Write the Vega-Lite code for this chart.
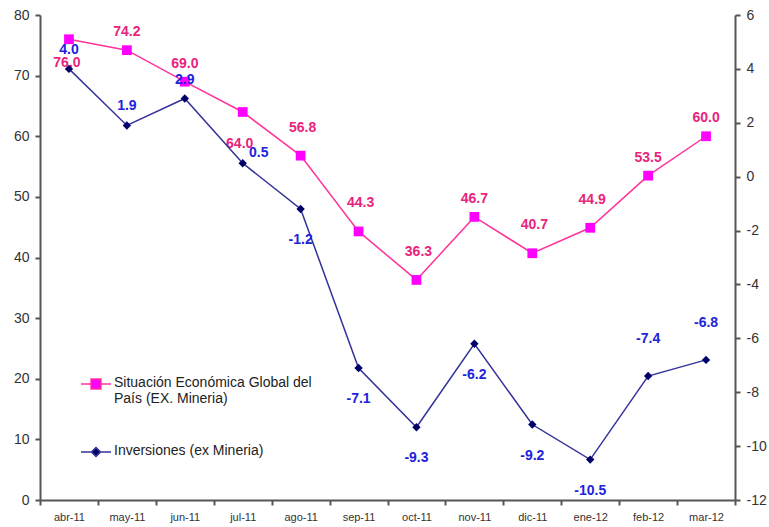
{
  "$schema": "https://vega.github.io/schema/vega-lite/v6.json",
  "width": 695,
  "height": 485,
  "autosize": {"type": "none"},
  "padding": {"left": 40, "top": 15, "right": 34, "bottom": 27},
  "background": "white",
  "data": {
    "values": [
      {"mes": "abr-11", "serie": "Situación Económica Global del País (EX. Mineria)", "valor": 76.0},
      {"mes": "may-11", "serie": "Situación Económica Global del País (EX. Mineria)", "valor": 74.2},
      {"mes": "jun-11", "serie": "Situación Económica Global del País (EX. Mineria)", "valor": 69.0},
      {"mes": "jul-11", "serie": "Situación Económica Global del País (EX. Mineria)", "valor": 64.0},
      {"mes": "ago-11", "serie": "Situación Económica Global del País (EX. Mineria)", "valor": 56.8},
      {"mes": "sep-11", "serie": "Situación Económica Global del País (EX. Mineria)", "valor": 44.3},
      {"mes": "oct-11", "serie": "Situación Económica Global del País (EX. Mineria)", "valor": 36.3},
      {"mes": "nov-11", "serie": "Situación Económica Global del País (EX. Mineria)", "valor": 46.7},
      {"mes": "dic-11", "serie": "Situación Económica Global del País (EX. Mineria)", "valor": 40.7},
      {"mes": "ene-12", "serie": "Situación Económica Global del País (EX. Mineria)", "valor": 44.9},
      {"mes": "feb-12", "serie": "Situación Económica Global del País (EX. Mineria)", "valor": 53.5},
      {"mes": "mar-12", "serie": "Situación Económica Global del País (EX. Mineria)", "valor": 60.0},
      {"mes": "abr-11", "serie": "Inversiones (ex Minería)", "valor": 4.0},
      {"mes": "may-11", "serie": "Inversiones (ex Minería)", "valor": 1.9},
      {"mes": "jun-11", "serie": "Inversiones (ex Minería)", "valor": 2.9},
      {"mes": "jul-11", "serie": "Inversiones (ex Minería)", "valor": 0.5},
      {"mes": "ago-11", "serie": "Inversiones (ex Minería)", "valor": -1.2},
      {"mes": "sep-11", "serie": "Inversiones (ex Minería)", "valor": -7.1},
      {"mes": "oct-11", "serie": "Inversiones (ex Minería)", "valor": -9.3},
      {"mes": "nov-11", "serie": "Inversiones (ex Minería)", "valor": -6.2},
      {"mes": "dic-11", "serie": "Inversiones (ex Minería)", "valor": -9.2},
      {"mes": "ene-12", "serie": "Inversiones (ex Minería)", "valor": -10.5},
      {"mes": "feb-12", "serie": "Inversiones (ex Minería)", "valor": -7.4},
      {"mes": "mar-12", "serie": "Inversiones (ex Minería)", "valor": -6.8}
    ]
  },
  "encoding": {
    "x": {
      "field": "mes",
      "type": "ordinal",
      "sort": ["abr-11", "may-11", "jun-11", "jul-11", "ago-11", "sep-11", "oct-11", "nov-11", "dic-11", "ene-12", "feb-12", "mar-12"],
      "scale": {"paddingInner": 0, "paddingOuter": 0},
      "axis": {"title": null, "labelAngle": 0, "tickBand": "extent", "labelFontSize": 11, "labelPadding": 6}
    }
  },
  "layer": [
    {
      "transform": [{"filter": "datum.serie == 'Situación Económica Global del País (EX. Mineria)'"}],
      "encoding": {
        "y": {
          "field": "valor",
          "type": "quantitative",
          "scale": {"domain": [0, 80], "nice": false, "zero": false},
          "axis": {"title": null, "orient": "left", "values": [0, 10, 20, 30, 40, 50, 60, 70, 80], "labelFontSize": 14, "labelPadding": 6}
        }
      },
      "layer": [
        {"mark": {"type": "line", "color": "#ff3399", "strokeWidth": 1.5}},
        {"mark": {"type": "point", "shape": "square", "filled": true, "size": 95, "color": "#ff00ff", "opacity": 1}},
        {
          "transform": [{"filter": {"field": "mes", "oneOf": ["may-11", "jun-11", "nov-11", "feb-12", "mar-12"]}}],
          "mark": {"type": "text", "font": "Liberation Sans", "fontWeight": "bold", "fontSize": 14, "color": "#e8247c", "dy": -18},
          "encoding": {"text": {"field": "valor", "type": "quantitative", "format": ".1f"}}
        },
        {
          "transform": [{"filter": {"field": "mes", "oneOf": ["ago-11", "sep-11", "oct-11", "dic-11", "ene-12"]}}],
          "mark": {"type": "text", "font": "Liberation Sans", "fontWeight": "bold", "fontSize": 14, "color": "#e8247c", "dy": -28, "dx": 2},
          "encoding": {"text": {"field": "valor", "type": "quantitative", "format": ".1f"}}
        },
        {
          "transform": [{"filter": {"field": "mes", "oneOf": ["abr-11"]}}],
          "mark": {"type": "text", "font": "Liberation Sans", "fontWeight": "bold", "fontSize": 14, "color": "#e8247c", "dy": 24, "dx": -2},
          "encoding": {"text": {"field": "valor", "type": "quantitative", "format": ".1f"}}
        },
        {
          "transform": [{"filter": {"field": "mes", "oneOf": ["jul-11"]}}],
          "mark": {"type": "text", "font": "Liberation Sans", "fontWeight": "bold", "fontSize": 14, "color": "#e8247c", "dy": 32, "dx": -3},
          "encoding": {"text": {"field": "valor", "type": "quantitative", "format": ".1f"}}
        },
        {
          "mark": {"type": "point", "filled": true, "opacity": 0},
          "encoding": {
            "fill": {
              "field": "serie",
              "type": "nominal",
              "scale": {"domain": ["Situación Económica Global del País (EX. Mineria)", "Inversiones (ex Minería)"], "range": ["#ff00ff", "#000066"]},
              "legend": {
                "title": null,
                "orient": "none",
                "legendX": 40,
                "legendY": 353,
                "padding": 0,
                "symbolSize": 900,
                "symbolStrokeWidth": 1.5,
                "symbolOpacity": 1,
                "labelFont": "Liberation Sans",
                "labelFontSize": 14,
                "labelColor": "#222",
                "labelOffset": 2,
                "labelBaseline": "top",
                "labelLineHeight": 16,
                "labelLimit": 400,
                "rowPadding": 30,
                "labelExpr": "datum.label == 'Situación Económica Global del País (EX. Mineria)' ? ['Situación Económica Global del', 'País (EX. Mineria)'] : 'Inversiones (ex Mineria)'",
                "encode": {
                  "symbols": {"update": {"opacity": {"value": 1}}},
                  "labels": {"update": {"dy": {"value": -8}}}
                }
              }
            },
            "stroke": {
              "field": "serie",
              "type": "nominal",
              "scale": {"domain": ["Situación Económica Global del País (EX. Mineria)", "Inversiones (ex Minería)"], "range": ["#ff3399", "#33339a"]}
            },
            "shape": {
              "field": "serie",
              "type": "nominal",
              "scale": {
                "domain": ["Situación Económica Global del País (EX. Mineria)", "Inversiones (ex Minería)"],
                "range": ["M-1,0H-0.33M0.33,0H1M-0.33,-0.33H0.33V0.33H-0.33Z", "M-1,0H-0.3M0.3,0H1M0,-0.3L0.3,0L0,0.3L-0.3,0Z"]
              }
            }
          }
        }
      ]
    },
    {
      "transform": [{"filter": "datum.serie == 'Inversiones (ex Minería)'"}],
      "encoding": {
        "y": {
          "field": "valor",
          "type": "quantitative",
          "scale": {"domain": [-12, 6], "nice": false, "zero": false},
          "axis": {"title": null, "orient": "right", "values": [-12, -10, -8, -6, -4, -2, 0, 2, 4, 6], "labelFontSize": 14, "labelPadding": 6}
        }
      },
      "layer": [
        {"mark": {"type": "line", "color": "#33339a", "strokeWidth": 1.5}},
        {"mark": {"type": "point", "shape": "diamond", "filled": true, "size": 70, "color": "#000066", "opacity": 1}},
        {
          "transform": [{"filter": {"field": "mes", "oneOf": ["abr-11", "may-11", "jun-11"]}}],
          "mark": {"type": "text", "font": "Liberation Sans", "fontWeight": "bold", "fontSize": 14, "color": "#2222dd", "dy": -19},
          "encoding": {"text": {"field": "valor", "type": "quantitative", "format": ".1f"}}
        },
        {
          "transform": [{"filter": {"field": "mes", "oneOf": ["jul-11"]}}],
          "mark": {"type": "text", "font": "Liberation Sans", "fontWeight": "bold", "fontSize": 14, "color": "#2222dd", "dy": -10, "dx": 16},
          "encoding": {"text": {"field": "valor", "type": "quantitative", "format": ".1f"}}
        },
        {
          "transform": [{"filter": {"field": "mes", "oneOf": ["ago-11", "sep-11", "oct-11", "nov-11", "dic-11", "ene-12"]}}],
          "mark": {"type": "text", "font": "Liberation Sans", "fontWeight": "bold", "fontSize": 14, "color": "#2222dd", "dy": 31},
          "encoding": {"text": {"field": "valor", "type": "quantitative", "format": ".1f"}}
        },
        {
          "transform": [{"filter": {"field": "mes", "oneOf": ["feb-12", "mar-12"]}}],
          "mark": {"type": "text", "font": "Liberation Sans", "fontWeight": "bold", "fontSize": 14, "color": "#2222dd", "dy": -37},
          "encoding": {"text": {"field": "valor", "type": "quantitative", "format": ".1f"}}
        }
      ]
    }
  ],
  "resolve": {"scale": {"y": "independent"}},
  "config": {
    "view": {"stroke": null},
    "locale": {"number": {"decimal": ".", "thousands": ",", "grouping": [3], "currency": ["$", ""], "minus": "-"}},
    "axis": {
      "grid": false,
      "domainColor": "#555",
      "domainWidth": 2,
      "tickColor": "#555",
      "tickWidth": 2,
      "tickSize": 5,
      "labelColor": "#333",
      "labelFont": "Liberation Sans"
    }
  }
}
